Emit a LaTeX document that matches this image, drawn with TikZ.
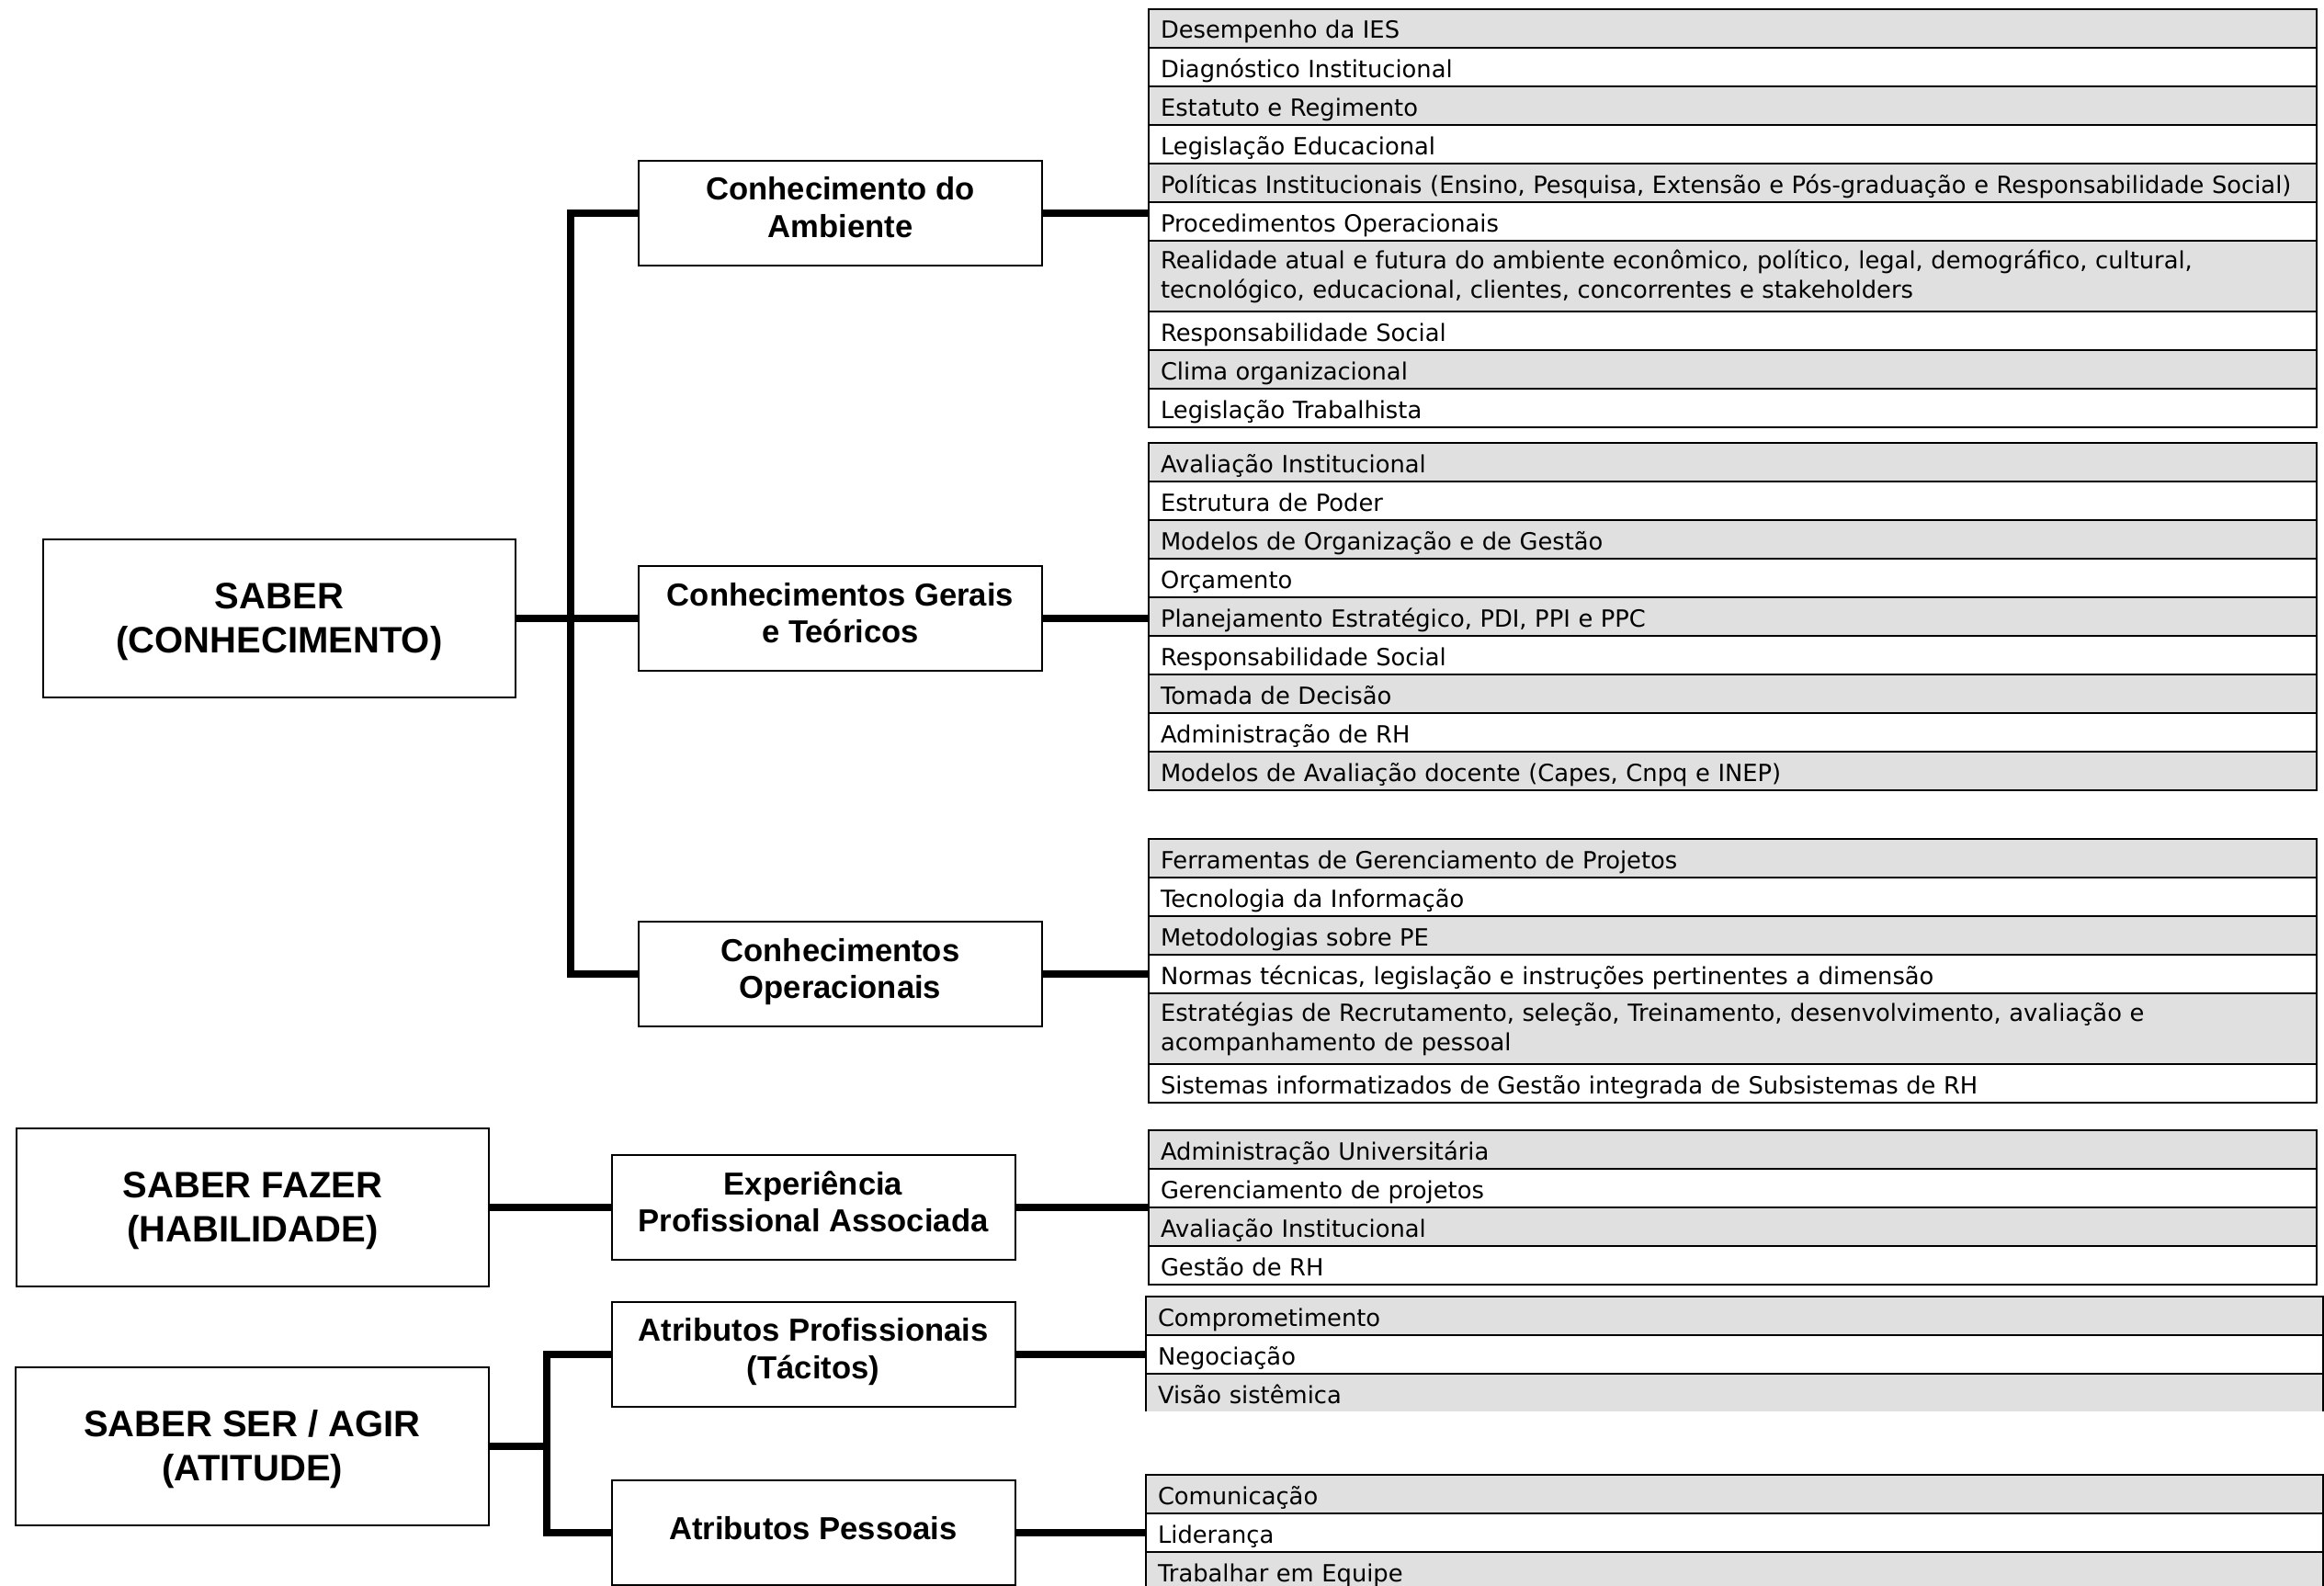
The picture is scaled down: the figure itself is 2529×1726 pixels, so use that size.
\documentclass[tikz,border=0pt]{standalone}
\usepackage{fontspec}
\setmainfont{Liberation Sans}
\newfontfamily\listfont{DejaVu Sans}
\usetikzlibrary{positioning}
\definecolor{cellgray}{RGB}{224,224,224}
\tikzset{
  big/.style  ={draw,line width=0.8pt,minimum width=205.6pt,minimum height=68.8pt,align=center,
                font=\bfseries\fontsize{16pt}{19.2pt}\selectfont,text height=33.6pt,text depth=3.4pt},
  mid/.style  ={draw,line width=0.8pt,minimum width=175.6pt,minimum height=45.6pt,align=center,
                font=\bfseries\fontsize{13.85pt}{16.2pt}\selectfont,execute at end node=\strut},
  cell/.style ={draw,line width=0.8pt,outer sep=0pt,inner xsep=5.2pt,inner ysep=0pt,text width=498pt,
                align=left,font=\listfont\fontsize{10.3pt}{12.9pt}\selectfont},
  row/.style  ={cell,text height=12.8pt,text depth=4pt},
  row2/.style ={cell,text height=12.2pt,text depth=18.6pt},
  gr/.style   ={fill=cellgray},
  wide/.style ={text width=501.9pt},
  link/.style ={line width=3.2pt},
}

\begin{document}
\begin{tikzpicture}[x=0.4pt,y=-0.4pt]
  \useasboundingbox (0,0) rectangle (2529,1726);

  \node[big] (sab) at (304,673) {SABER\\(CONHECIMENTO)};
  \node[mid] (amb) at (914.5,231.5) {Conhecimento do\\Ambiente};
  \node[mid] (ger) at (914.5,673) {Conhecimentos Gerais\\e Teóricos};
  \node[mid] (ope) at (914.5,1060) {Conhecimentos\\Operacionais};
  \node[big] (faz) at (275,1313.5) {SABER FAZER\\(HABILIDADE)};
  \node[mid] (exp) at (885,1313.5) {Experiência\\Profissional Associada};
  \node[big] (ser) at (274.5,1574) {SABER SER / AGIR\\(ATITUDE)};
  \node[mid] (pro) at (885,1473.5) {Atributos Profissionais\\(Tácitos)};
  \node[mid] (pes) at (885,1667.5) {Atributos Pessoais};
  \coordinate (j1) at (621,673);
  \coordinate (j2) at (595,1574);

  % conhecimento do ambiente
  \node[row,gr] (a1) at (1250,10) [anchor=north west] {Desempenho da IES};
  \node[row] (a2) [below=0pt of a1] {Diagnóstico Institucional};
  \node[row,gr] (a3) [below=0pt of a2] {Estatuto e Regimento};
  \node[row] (a4) [below=0pt of a3] {Legislação Educacional};
  \node[row,gr] (a5) [below=0pt of a4] {Políticas Institucionais (Ensino, Pesquisa, Extensão e Pós-graduação e Responsabilidade Social)};
  \node[row] (a6) [below=0pt of a5] {Procedimentos Operacionais};
  \node[row2,gr] (a7) [below=0pt of a6] {Realidade atual e futura do ambiente econômico, político, legal, demográfico, cultural,\\tecnológico, educacional, clientes, concorrentes e stakeholders};
  \node[row] (a8) [below=0pt of a7] {Responsabilidade Social};
  \node[row,gr] (a9) [below=0pt of a8] {Clima organizacional};
  \node[row] (a10) [below=0pt of a9] {Legislação Trabalhista};

  % conhecimentos gerais
  \node[row,gr] (b1) at (1250,482) [anchor=north west] {Avaliação Institucional};
  \node[row] (b2) [below=0pt of b1] {Estrutura de Poder};
  \node[row,gr] (b3) [below=0pt of b2] {Modelos de Organização e de Gestão};
  \node[row] (b4) [below=0pt of b3] {Orçamento};
  \node[row,gr] (b5) [below=0pt of b4] {Planejamento Estratégico, PDI, PPI e PPC};
  \node[row] (b6) [below=0pt of b5] {Responsabilidade Social};
  \node[row,gr] (b7) [below=0pt of b6] {Tomada de Decisão};
  \node[row] (b8) [below=0pt of b7] {Administração de RH};
  \node[row,gr] (b9) [below=0pt of b8] {Modelos de Avaliação docente (Capes, Cnpq e INEP)};

  % conhecimentos operacionais
  \node[row,gr] (c1) at (1250,913) [anchor=north west] {Ferramentas de Gerenciamento de Projetos};
  \node[row] (c2) [below=0pt of c1] {Tecnologia da Informação};
  \node[row,gr] (c3) [below=0pt of c2] {Metodologias sobre PE};
  \node[row] (c4) [below=0pt of c3] {Normas técnicas, legislação e instruções pertinentes a dimensão};
  \node[row2,gr] (c5) [below=0pt of c4] {Estratégias de Recrutamento, seleção, Treinamento, desenvolvimento, avaliação e\\acompanhamento de pessoal};
  \node[row] (c6) [below=0pt of c5] {Sistemas informatizados de Gestão integrada de Subsistemas de RH};

  % experiencia
  \node[row,gr] (d1) at (1250,1230) [anchor=north west] {Administração Universitária};
  \node[row] (d2) [below=0pt of d1] {Gerenciamento de projetos};
  \node[row,gr] (d3) [below=0pt of d2] {Avaliação Institucional};
  \node[row] (d4) [below=0pt of d3] {Gestão de RH};

  % atributos
  \begin{scope}
    \clip (1240,1400) rectangle (2529,1535);
    \node[row,wide,gr] (e1) at (1247,1411) [anchor=north west] {Comprometimento};
    \node[row,wide] (e2) [below=0pt of e1] {Negociação};
    \node[row,wide,gr] (e3) [below=0pt of e2] {Visão sistêmica};
  \end{scope}
  \node[row,wide,gr] (f1) at (1247,1605) [anchor=north west] {Comunicação};
  \node[row,wide] (f2) [below=0pt of f1] {Liderança};
  \node[row,wide,gr] (f3) [below=0pt of f2] {Trabalhar em Equipe};

  \draw[link] (amb.west) -| (j1) |- (ope.west);
  \draw[link] (sab.east) -- (ger.west);
  \draw[link] (faz.east) -- (exp.west);
  \draw[link] (pro.west) -| (j2) |- (pes.west);
  \draw[link] (ser.east) -- (j2);
  \draw[link] (amb.east) -- (amb.east -| a1.west);
  \draw[link] (ger.east) -- (ger.east -| b1.west);
  \draw[link] (ope.east) -- (ope.east -| c1.west);
  \draw[link] (exp.east) -- (exp.east -| d1.west);
  \draw[link] (pro.east) -- (pro.east -| e1.west);
  \draw[link] (pes.east) -- (pes.east -| f1.west);
\end{tikzpicture}
\end{document}
